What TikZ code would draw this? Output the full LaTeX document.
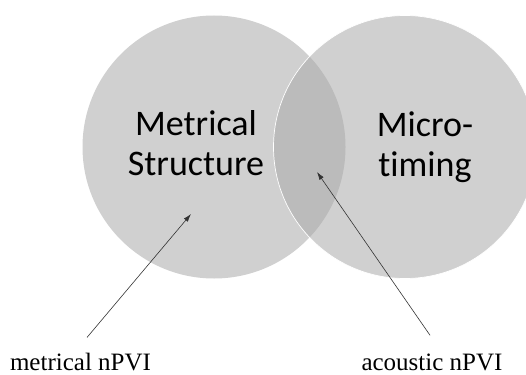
\documentclass[tikz,border=0pt]{standalone}
\usepackage{fontspec}
\setmainfont{Liberation Serif}
\newfontfamily\calfont[Ligatures=NoCommon]{Carlito}
\usetikzlibrary{arrows.meta}
\definecolor{circgray}{RGB}{208,208,208}
\definecolor{lensgray}{RGB}{187,187,187}

\begin{document}
\begin{tikzpicture}[x=1pt, y=-1pt,
	venn/.style={circle, fill=circgray, minimum size=263pt, inner sep=0pt, outer sep=0pt},
	big/.style={font=\calfont\fontsize{36}{40}\selectfont, align=center, inner sep=0pt},
	lab/.style={font=\fontsize{25}{28}\selectfont, anchor=base, inner sep=2pt},
	pointer/.style={-{Latex[length=8pt,width=5pt]}, line width=0.6pt, black!80}]
	\clip (0,0) rectangle (526,374);
	\node[venn] (ms) at (214,147) {};
	\node[venn] (mt) at (405,147) {};
	% overlap of the two circles
	\begin{scope}
		\clip (ms.center) circle (131.5pt);
		\fill[lensgray] (mt.center) circle (131.5pt);
	\end{scope}
	\draw[white, line width=0.7pt] (mt.center) circle (131.5pt);
	\node[big] (mstext) at (196,143.5) {Metrical\\Structure};
	\node[big] (mttext) at (425,147) {Micro-\\timing};
	\node[lab] (met) at (80.5,370) {metrical nPVI};
	\node[lab] (aco) at (432,370) {acoustic nPVI};
	\coordinate (mtip) at (191,214);
	\coordinate (atip) at (317,172);
	\draw[pointer] ([xshift=6.5pt, yshift=13pt]met.north) -- (mtip);
	\draw[pointer] ([xshift=-2pt, yshift=16pt]aco.north) -- (atip);
\end{tikzpicture}
\end{document}
